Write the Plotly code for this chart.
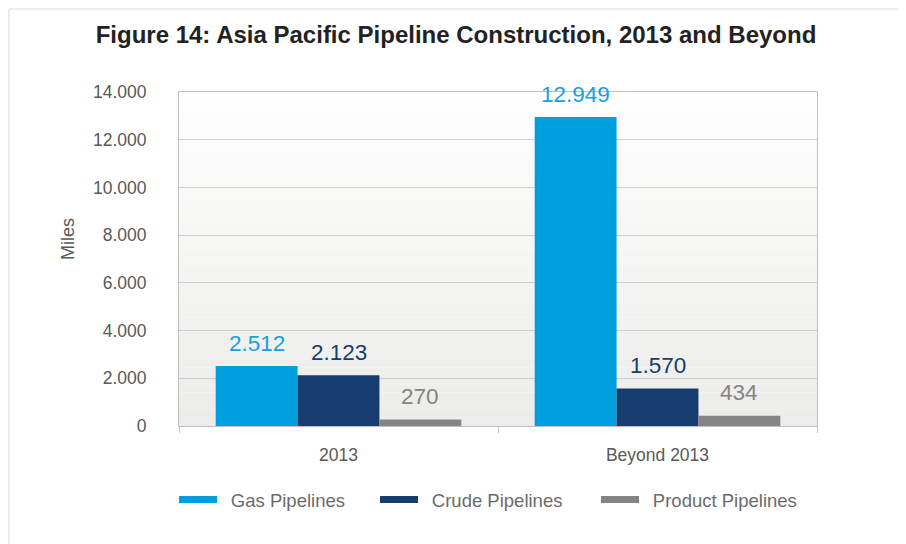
import plotly.graph_objects as go

# data
categories = ["2013", "Beyond 2013"]
series_names = ["Gas Pipelines", "Crude Pipelines", "Product Pipelines"]
gas = [2512, 12949]
crude = [2123, 1570]
product = [270, 434]

colors = ["#009fe0", "#163d6e", "#878382"]
label_colors = ["#1a9fdf", "#163d6e", "#878382"]
FONT = "Arial, Liberation Sans, sans-serif"

# page body adds an 8px offset, so the figure is 8px smaller
OFF = 8
W, H = 906 - OFF, 544 - OFF
M = dict(l=179 - OFF, r=89, t=92 - OFF, b=118)
PW = W - M["l"] - M["r"]
PH = H - M["t"] - M["b"]
BARGAP = 0.23
bar_px = PW / len(categories) * (1 - BARGAP) / len(series_names)


def px2x(px):
    # px in screenshot coords -> paper x
    return (px - OFF - M["l"]) / PW


def px2y(py):
    return (H - M["b"] - (py - OFF)) / PH


fig = go.Figure()
for i, (name, vals) in enumerate(zip(series_names, [gas, crude, product])):
    fig.add_trace(go.Bar(
        x=categories, y=vals, name=name,
        marker=dict(color=colors[i], line=dict(width=0)),
        showlegend=False,
    ))
    # legend entries drawn as thick lines, each in own legend
    # (leading spaces widen the gap between symbol and text)
    fig.add_trace(go.Scatter(
        x=categories[:1], y=[None], mode="lines", name="\u00a0\u2009" + name,
        line=dict(color=colors[i], width=7),
        legend="legend" if i == 0 else f"legend{i + 1}",
        hoverinfo="skip",
    ))
    # value labels; x given as category index (names look numeric)
    for j, v in enumerate(vals):
        fig.add_annotation(
            x=j, y=v, text=f"{v:,}".replace(",", "."),
            showarrow=False, xshift=(i - 1) * bar_px, yshift=23,
            yanchor="middle",
            font=dict(family=FONT, size=22.5, color=label_colors[i]),
        )

# y axis title sits a bit above the plot centre
fig.add_annotation(
    xref="paper", yref="paper", x=px2x(68), y=px2y(239),
    text="Miles", textangle=-90, showarrow=False,
    xanchor="center", yanchor="middle",
    font=dict(family=FONT, size=18, color="#595959"),
)

# subtle vertical gradient behind plot area
shapes = []
n = 40
for k in range(n):
    t = (k + 0.5) / n
    r = int(255 - (255 - 236) * t)
    g = int(255 - (255 - 236) * t)
    b = int(255 - (255 - 234) * t)
    shapes.append(dict(
        type="rect", xref="paper", yref="paper", layer="below",
        x0=0, x1=1, y0=1 - (k + 1) / n, y1=1 - k / n,
        fillcolor=f"rgb({r},{g},{b})", line=dict(width=0),
    ))
# outer frame
shapes.append(dict(
    type="rect", xref="paper", yref="paper", layer="below",
    x0=px2x(9), x1=px2x(903), y0=px2y(570), y1=px2y(9),
    line=dict(color="#d9d9d9", width=1), fillcolor="rgba(0,0,0,0)",
))

leg_common = dict(
    orientation="h", yanchor="middle", xanchor="left",
    font=dict(family=FONT, size=18.5, color="#6b6b6b"),
    bgcolor="rgba(0,0,0,0)", itemwidth=38,
    y=px2y(500),
)

fig.update_layout(
    width=W, height=H,
    margin=M,
    paper_bgcolor="white",
    plot_bgcolor="rgba(0,0,0,0)",
    separators=",.",
    barmode="group",
    bargap=BARGAP, bargroupgap=0,
    title=dict(
        text="<b>Figure 14: Asia Pacific Pipeline Construction, 2013 and Beyond</b>",
        x=(456 - OFF) / W, xanchor="center", y=1 - (35 - OFF) / H, yanchor="middle",
        font=dict(family=FONT, size=24, color="#222222"),
    ),
    font=dict(family=FONT, size=17.5, color="#595959"),
    xaxis=dict(
        type="category", range=[-0.5, len(categories) - 0.5], showgrid=False,
        showline=True, linecolor="#bfbfbf", linewidth=1, mirror=True,
        ticks="outside", tickson="boundaries", ticklen=6, tickcolor="#c8c8c8",
        ticklabelstandoff=13,
        tickfont=dict(family=FONT, size=17.5, color="#595959"),
    ),
    yaxis=dict(
        range=[0, 14000], dtick=2000, tickformat=",",
        showgrid=True, gridcolor="#cfcfcf", gridwidth=1,
        zeroline=False,
        showline=True, linecolor="#bfbfbf", linewidth=1, mirror=True,
        ticks="", ticklabelstandoff=28,
        tickfont=dict(family=FONT, size=17.5, color="#595959"),
    ),
    legend=dict(**leg_common, x=px2x(174)),
    legend2=dict(**leg_common, x=px2x(375)),
    legend3=dict(**leg_common, x=px2x(596)),
    shapes=shapes,
)

fig.write_html("out.html")
